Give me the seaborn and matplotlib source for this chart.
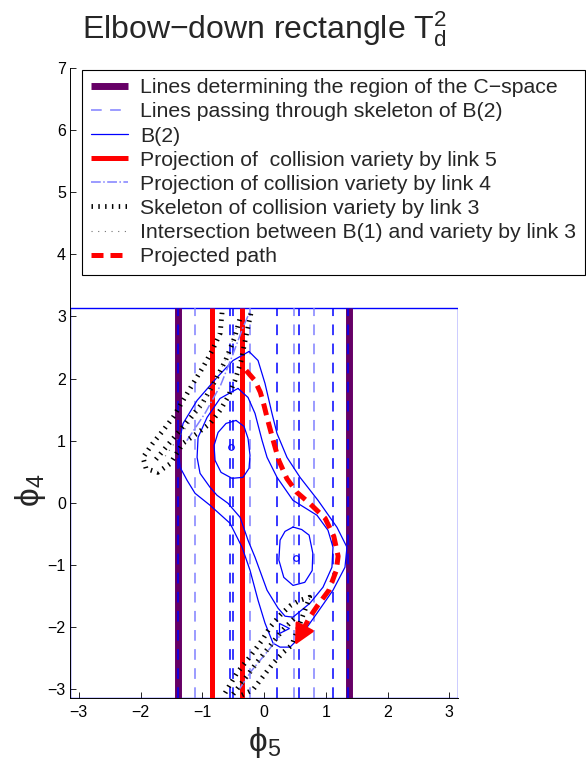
import numpy as np
import pandas as pd
import matplotlib
matplotlib.use("Agg")
import matplotlib.pyplot as plt
import seaborn as sns

PI = np.pi

# vertical lines, phi5 positions
region_x = [-1.39, 1.375]
link5_x = [-0.846, -0.351]
skel_light_x = [-1.125, -0.235, 0.485, 0.81]
skel_dark_x = [-1.387, -0.55, -0.497, 0.215, 0.566, 1.11, 1.364]

# B(2) contours (phi5, phi4)
c_outer_x = [-0.243, -0.097, 0.016, 0.129, 0.210, 0.372, 0.583, 0.874, 1.181, 1.343, 1.311, 1.117, 0.858,
             0.583, 0.421, 0.259, 0.146, 0.016, -0.097, -0.227, -0.356, -0.550, -0.874, -1.117, -1.246,
             -1.359, -1.392, -1.311, -1.084, -0.761, -0.502, -0.243]
c_outer_y = [2.436, 2.291, 1.921, 1.439, 1.117, 0.731, 0.410, 0.040, -0.394, -0.715, -1.037, -1.407, -1.777,
             -2.162, -2.323, -2.323, -2.259, -1.937, -1.568, -1.085, -0.715, -0.330, -0.040, 0.153, 0.362,
             0.571, 0.892, 1.278, 1.648, 2.018, 2.291, 2.436]
c_mid_x = [-0.421, -0.259, -0.146, -0.032, 0.049, 0.210, 0.469, 0.858, 1.036, 1.117, 1.100, 0.955, 0.744,
           0.469, 0.340, 0.227, 0.049, -0.146, -0.259, -0.388, -0.583, -0.761, -0.874, -1.036, -1.084,
           -1.068, -0.922, -0.712, -0.421]
c_mid_y = [1.841, 1.696, 1.439, 1.005, 0.732, 0.410, 0.040, -0.201, -0.442, -0.715, -1.037, -1.359, -1.616,
           -1.841, -1.825, -1.696, -1.407, -0.876, -0.603, -0.233, -0.008, 0.121, 0.249, 0.474, 0.732,
           1.053, 1.375, 1.680, 1.841]
c_left_x = [-0.453, -0.324, -0.259, -0.227, -0.243, -0.340, -0.518, -0.696, -0.793, -0.809, -0.744, -0.615, -0.453]
c_left_y = [1.326, 1.230, 1.037, 0.764, 0.555, 0.410, 0.394, 0.490, 0.683, 0.924, 1.133, 1.278, 1.326]
c_right_x = [0.47, 0.61, 0.73, 0.79, 0.78, 0.66, 0.47, 0.32, 0.24, 0.26, 0.34, 0.47]
c_right_y = [-0.39, -0.43, -0.52, -0.81, -1.09, -1.28, -1.33, -1.20, -0.92, -0.60, -0.46, -0.39]
minima_x = [-0.53, 0.52]
minima_y = [0.90, -0.89]

# skeleton of collision variety by link 3 (two bands)
up_loop_x = [-0.68, -0.71, -0.84, -0.99, -1.15, -1.31, -1.47, -1.63, -1.80, -1.96, -1.91, -1.72, -1.52,
             -1.31, -1.08, -0.87, -0.71, -0.58, -0.47, -0.37, -0.29, -0.21]
up_loop_y = [3.06, 2.73, 2.45, 2.18, 1.92, 1.65, 1.38, 1.17, 0.96, 0.73, 0.55, 0.49, 0.63,
             0.96, 1.12, 1.28, 1.49, 1.71, 1.97, 2.29, 2.69, 3.06]
up_mid_x = [-1.75, -1.5, -1.25, -1.0, -0.8, -0.62, -0.48, -0.38]
up_mid_y = [0.70, 1.00, 1.30, 1.60, 1.95, 2.30, 2.65, 3.00]
lo_loop_x = [-0.63, -0.44, -0.23, -0.03, 0.10, 0.26, 0.42, 0.58, 0.74, 0.45, 0.32, 0.15, -0.02, -0.18, -0.39]
lo_loop_y = [-3.06, -2.74, -2.48, -2.21, -2.00, -1.81, -1.66, -1.57, -1.52, -2.29, -2.40, -2.58, -2.80, -3.01, -3.11]
lo_mid_x = [-0.50, -0.30, -0.10, 0.10, 0.30, 0.50]
lo_mid_y = [-3.08, -2.82, -2.55, -2.30, -2.05, -1.85]

# intersection between B(1) and variety by link 3
up_int_x = [-1.6, -1.35, -1.1, -0.9, -0.72, -0.56, -0.44]
up_int_y = [0.75, 1.10, 1.42, 1.75, 2.10, 2.45, 2.85]
lo_int_x = [-0.40, -0.20, 0.00, 0.20, 0.40]
lo_int_y = [-3.00, -2.72, -2.45, -2.18, -1.95]

# projection of collision variety by link 4
l4_up_x = [-1.25, -0.95, -0.70, -0.50, -0.35, -0.22]
l4_up_y = [1.00, 1.45, 1.90, 2.40, 2.80, 3.10]
l4_lo_x = [-0.40, -0.20, 0.05, 0.25]
l4_lo_y = [-3.00, -2.70, -2.40, -2.15]

# projected path
path_x = [-0.29, -0.15, -0.06, 0.00, 0.06, 0.15, 0.24, 0.37, 0.53, 0.74, 0.99, 1.13, 1.20, 1.17, 1.05,
          0.87, 0.74, 0.63]
path_y = [2.13, 1.97, 1.78, 1.57, 1.33, 1.00, 0.68, 0.39, 0.17, -0.01, -0.25, -0.54, -0.86, -1.09, -1.41,
          -1.65, -1.84, -2.05]
arrow_tip = (0.50, -2.29)
start_mark = (0.33, -2.02)

box_x = [-PI, PI, PI, -PI, -PI]
box_y = [-PI, -PI, PI, PI, -PI]

labels = ["Lines determining the region of the C\u2212space",
          "Lines passing through skeleton of B(2)",
          "B(2)",
          "Projection of  collision variety by link 5",
          "Projection of collision variety by link 4",
          "Skeleton of collision variety by link 3",
          "Intersection between B(1) and variety by link 3",
          "Projected path"]

sns.set_style("ticks")
plt.rcParams["font.family"] = ["Liberation Sans", "DejaVu Sans"]
plt.rcParams["mathtext.fontset"] = "custom"
plt.rcParams["mathtext.rm"] = "Liberation Sans"
plt.rcParams["mathtext.it"] = "Liberation Sans:italic"
plt.rcParams["mathtext.bf"] = "Liberation Sans:bold"

purple = (0.4, 0.0, 0.4)
light_blue = (0.5, 0.5, 1.0)
dash = (0, (7, 5.5))

fig = plt.figure(figsize=(5.86, 7.67), dpi=100)
ax = fig.add_axes([0.1195, 0.0900, 0.6621, 0.8214])

ax.plot(box_x, box_y, color="b", lw=1.0)

h = {}
for x in region_x:
    h[0], = ax.plot([x, x], [-PI, PI], color=purple, lw=5, solid_capstyle="butt")
for x in link5_x:
    h[3], = ax.plot([x, x], [-PI, PI], color="red", lw=3.6, solid_capstyle="butt")
for x in skel_light_x:
    h[1], = ax.plot([x, x], [-PI, PI], color=light_blue, lw=1.1, ls=dash)
for x in skel_dark_x:
    ax.plot([x, x], [-PI, PI], color="b", lw=1.1, ls=dash)

contours = [(c_outer_x, c_outer_y), (c_mid_x, c_mid_y), (c_left_x, c_left_y), (c_right_x, c_right_y)]
for cx, cy in contours:
    sns.lineplot(x=cx, y=cy, sort=False, estimator=None, color="b", lw=0.9, ax=ax)
h[2] = ax.lines[-1]
ax.plot(minima_x, minima_y, "o", mfc="none", mec="b", ms=4, mew=0.8)

for lx, ly in [(l4_up_x, l4_up_y), (l4_lo_x, l4_lo_y)]:
    h[4], = ax.plot(lx, ly, color=light_blue, lw=1.1, ls="-.")

skel_style = dict(color="k", lw=3.5, ls=(0, (0.3, 1.1)), dash_capstyle="butt")
for sx, sy in [(up_loop_x, up_loop_y), (up_mid_x, up_mid_y), (lo_loop_x, lo_loop_y), (lo_mid_x, lo_mid_y)]:
    h[5], = ax.plot(sx, sy, **skel_style)
for ix, iy in [(up_int_x, up_int_y), (lo_int_x, lo_int_y)]:
    h[6], = ax.plot(ix, iy, color="0.45", lw=0.8, ls=(0, (1, 5)))

h[7], = ax.plot(path_x, path_y, color="red", lw=3.6, ls=(0, (2.4, 1.4)), dash_capstyle="butt")
ax.annotate("", xy=arrow_tip, xytext=(path_x[-1], path_y[-1]),
            arrowprops=dict(arrowstyle="-|>,head_length=0.7,head_width=0.35", color="red",
                            lw=2, shrinkA=0, shrinkB=0, mutation_scale=18))
ax.plot(*start_mark, ">", mfc="none", mec="b", ms=7, mew=0.9)

ax.set_xlim(-PI, PI)
ax.set_ylim(-PI, 7)
ax.set_xticks(range(-3, 4))
ax.set_yticks(range(-3, 8))
ax.set_xticklabels([f"{v}".replace("-", "\u2212") for v in range(-3, 4)])
ax.set_yticklabels([f"{v}".replace("-", "\u2212") for v in range(-3, 8)])
ax.tick_params(direction="in", length=4, width=0.6, labelsize=11.5, colors="k", pad=3)
ax.tick_params(axis="x", pad=5)
for side in ["top", "right"]:
    ax.spines[side].set_visible(False)
for side in ["left", "bottom"]:
    ax.spines[side].set_color("k")
    ax.spines[side].set_linewidth(0.7)

ax.set_title("Elbow\u2212down rectangle $\\mathrm{T_d^2}$", fontsize=23, pad=21)
ax.set_xlabel("\u03d5$_5$", fontsize=24, labelpad=4)
ax.set_ylabel("\u03d5$_4$", fontsize=24)
ax.yaxis.set_label_coords(-0.058, 0.33)

leg = ax.legend([h[i] for i in range(8)], labels, loc="upper left",
                bbox_to_anchor=(0.031, 0.997), bbox_transform=ax.transAxes, borderaxespad=0,
                fontsize=15.3, labelspacing=0.24, handlelength=1.77, handletextpad=0.56,
                borderpad=0.4, fancybox=False, framealpha=1, edgecolor="k")
leg.get_frame().set_linewidth(0.8)

fig.savefig("out.png", dpi=100)
